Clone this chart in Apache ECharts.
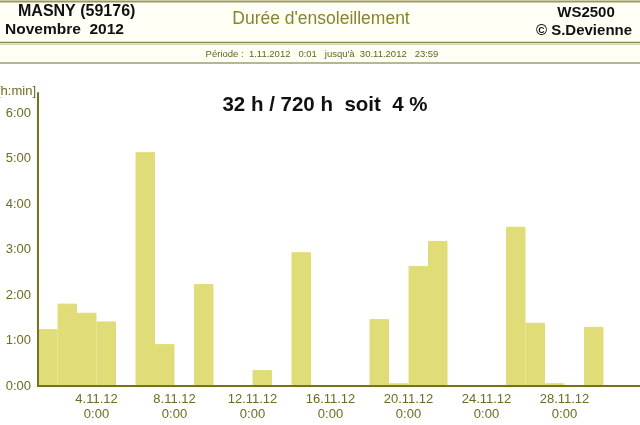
<!DOCTYPE html>
<html>
<head>
<meta charset="utf-8">
<script src="https://cdn.jsdelivr.net/npm/echarts@6/dist/echarts.min.js"></script>
<style>
html,body{margin:0;padding:0;background:#ffffff;}
#chart{width:640px;height:425px;}
</style>
</head>
<body>
<div id="chart"></div>
<script>
// Days of November 2012
const days = ['1','2','3','4','5','6','7','8','9','10','11','12','13','14','15','16','17','18','19','20','21','22','23','24','25','26','27','28','29','30'];
// Sunshine duration per day, hours (decimal)
const sunHours = [1.25,1.81,1.61,1.42,0.0,5.14,0.92,0.02,2.24,0.0,0.0,0.35,0.0,2.94,0.02,0.01,0.0,1.47,0.06,2.64,3.19,0.0,0.0,0.0,3.50,1.39,0.06,0.02,1.30,0.0];
// Tick labels on day boundaries (0:00 of those days)
const tickDates = ['4.11.12','8.11.12','12.11.12','16.11.12','20.11.12','24.11.12','28.11.12'];
const tickTime = '0:00';
const yTicks = ['0:00','1:00','2:00','3:00','4:00','5:00','6:00'];

// Boundary category axis: 31 day starts (1.11 0:00 ... 1.12 0:00)
const boundaries = [];
for (let i = 0; i <= days.length; i++) {
  const d = (i + 1) + '.11.12';
  boundaries.push(tickDates.indexOf(d) >= 0 ? d : '');
}

const olive = '#76731f';
const labelCol = '#6e6b22';
const barCol = '#e0dc78';
const lineCol = '#9c9a5c';

const chart = echarts.init(document.getElementById('chart'), null, {renderer:'canvas'});
chart.setOption({
  animation: false,
  backgroundColor: '#ffffff',
  textStyle: {fontFamily: 'Liberation Sans, Arial, sans-serif'},
  grid: {left: 38, right: 17, top: 93, bottom: 39},
  title: {
    text: '32 h / 720 h  soit  4 %',
    left: 320, top: 90, textAlign: 'center',
    textStyle: {fontSize: 20.5, fontWeight: 'bold', color: '#111111', fontFamily: 'Liberation Sans, Arial, sans-serif'}
  },
  xAxis: [
    {
      type: 'category', data: days, boundaryGap: true, z: 5,
      axisLine: {show: true, lineStyle: {color: olive, width: 2}},
      axisTick: {show: false}, axisLabel: {show: false}, splitLine: {show: false}
    },
    {
      type: 'category', data: boundaries, boundaryGap: false, position: 'bottom',
      axisLine: {show: false}, axisTick: {show: false}, splitLine: {show: false},
      axisLabel: {
        interval: 0, margin: 6, fontSize: 13, lineHeight: 15, color: labelCol,
        formatter: v => v ? v + '\n' + tickTime : ''
      }
    }
  ],
  yAxis: {
    type: 'value', min: 0, max: 6.44, interval: 1, z: 5,
    axisLine: {show: true, lineStyle: {color: olive, width: 2}},
    axisTick: {show: false}, splitLine: {show: false},
    axisLabel: {
      showMaxLabel: false, margin: 7, fontSize: 13, color: labelCol,
      formatter: v => yTicks[Math.round(v)] || ''
    }
  },
  series: [{
    type: 'bar', xAxisIndex: 0, data: sunHours,
    barCategoryGap: '0%', barGap: '0%',
    itemStyle: {color: barCol, borderColor: barCol, borderWidth: 1},
    silent: true
  }],
  graphic: [
    {type: 'rect', shape: {x: 0, y: 0, width: 640, height: 64}, style: {fill: '#fffff6'}, z: -10},
    {type: 'line', shape: {x1: 0, y1: 1.5, x2: 640, y2: 1.5}, style: {stroke: lineCol, lineWidth: 2}},
    {type: 'line', shape: {x1: 0, y1: 42.5, x2: 640, y2: 42.5}, style: {stroke: '#8a884a', lineWidth: 1.5}},
    {type: 'line', shape: {x1: 0, y1: 44.5, x2: 640, y2: 44.5}, style: {stroke: '#d8d7b8', lineWidth: 1}},
    {type: 'line', shape: {x1: 0, y1: 63, x2: 640, y2: 63}, style: {stroke: '#a09e70', lineWidth: 1.5}},
    {type: 'line', shape: {x1: 623, y1: 386, x2: 640, y2: 386}, style: {stroke: olive, lineWidth: 2}},
    {type: 'text', x: 18, y: 12, style: {text: 'MASNY (59176)', fill: '#111111', font: 'bold 16px "Liberation Sans", Arial, sans-serif', textVerticalAlign: 'middle'}},
    {type: 'text', x: 5, y: 30, style: {text: 'Novembre  2012', fill: '#111111', font: 'bold 15.5px "Liberation Sans", Arial, sans-serif', textVerticalAlign: 'middle'}},
    {type: 'text', x: 321, y: 19, style: {text: "Durée d'ensoleillement", fill: '#86852c', font: '17.5px "Liberation Sans", Arial, sans-serif', textAlign: 'center', textVerticalAlign: 'middle'}},
    {type: 'text', x: 586, y: 13, style: {text: 'WS2500', fill: '#111111', font: 'bold 15px "Liberation Sans", Arial, sans-serif', textAlign: 'center', textVerticalAlign: 'middle'}},
    {type: 'text', x: 584, y: 31, style: {text: '© S.Devienne', fill: '#111111', font: 'bold 15px "Liberation Sans", Arial, sans-serif', textAlign: 'center', textVerticalAlign: 'middle'}},
    {type: 'text', x: 322, y: 54, style: {text: "Période :  1.11.2012   0:01   jusqu'à  30.11.2012   23:59", fill: '#66641f', font: '9.5px "Liberation Sans", Arial, sans-serif', textAlign: 'center', textVerticalAlign: 'middle'}},
    {type: 'text', x: 36, y: 91, style: {text: '[h:min]', fill: labelCol, font: '13px "Liberation Sans", Arial, sans-serif', textAlign: 'right', textVerticalAlign: 'middle'}}
  ]
});
</script>
</body>
</html>
